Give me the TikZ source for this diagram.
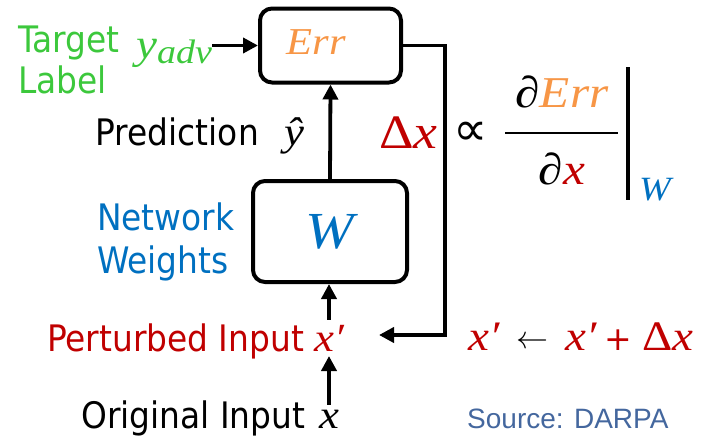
\RequirePackage{fix-cm}
\documentclass[tikz,border=0pt]{standalone}
\usepackage{fontspec}
\setmainfont{DejaVu Sans Condensed}
\newfontfamily\mv{Liberation Serif}[FakeStretch=1.12]
\newfontfamily\symf{DejaVu Sans}
\newfontfamily\srcfont{Liberation Sans}
\usetikzlibrary{arrows.meta}
\definecolor{targetgreen}{RGB}{60,200,60}
\definecolor{errorange}{RGB}{247,150,70}
\definecolor{weightblue}{RGB}{0,112,192}
\definecolor{inputred}{RGB}{192,0,0}
\definecolor{sourceblue}{RGB}{68,103,158}
\newcommand{\vi}[1]{{\mv\itshape #1}}
\tikzset{
  block/.style={draw, line width=4pt, rounded corners=12pt, inner sep=0pt},
  flow/.style={line width=3.8pt, -{Triangle[length=15pt,width=15pt]}},
  lbl/.style={inner sep=0pt, font=\fontsize{36.5}{42}\selectfont},
  fs/.style={inner sep=0pt, font=\fontsize{#1}{#1}\selectfont},
  var/.style={inner sep=0pt, outer sep=5pt, font=\fontsize{40}{40}\selectfont},
}
\begin{document}
\begin{tikzpicture}[x=1pt,y=-1pt]
\useasboundingbox (0,0) rectangle (702,439);

% error block and network block
\node[block, minimum width=141pt, minimum height=74pt] (Err) at (330.5,45.5) {};
\node[fs=38, anchor=base, text=errorange] (errtxt) at (316,54) {\vi{Err}};
\node[block, minimum width=154pt, minimum height=101pt, fs=52, text=weightblue] (W) at (330,231.5) {\vi{W}};

% target label
\node[lbl, anchor=base west, text=targetgreen] (tgt1) at (18,52) {Target};
\node[lbl, anchor=base west, text=targetgreen] (tgt2) at (18,93) {Label};
\node[fs=42, anchor=base west, text=targetgreen] (yadv) at (136,58) {\vi{y}\raisebox{-5pt}{\fontsize{34}{34}\selectfont\vi{adv}}};

% prediction
\node[lbl, anchor=base east] (pred) at (259,145) {Prediction};
\node[fs=40, anchor=base west] (yhat) at (284,145) {\vi{ŷ}};

% network weights
\node[lbl, anchor=base west, text=weightblue] (nw1) at (97,230) {Network};
\node[lbl, anchor=base west, text=weightblue] (nw2) at (97,273) {Weights};

% inputs
\node[var, anchor=base, text=inputred] (xp) at (329,351) {\vi{x′}};
\node[lbl, anchor=base west, text=inputred] (pin) at (47,351) {Perturbed Input};
\node[var, anchor=base] (xo) at (329,428) {\vi{x}};
\node[lbl, anchor=base west] (oin) at (81,428) {Original Input};

% update rule
\node[fs=42, anchor=base west, text=inputred] (upd) at (468,350)
  {\vi{x′}\hspace{17pt}\textcolor{black}{\raisebox{2pt}{\fontsize{32}{32}\selectfont$\leftarrow$}}\hspace{17pt}\vi{x′}\hspace{8pt}{\fontsize{33}{33}\selectfont\symf +}\hspace{10pt}{\mv Δ}\vi{x}};

% gradient expression
\node[fs=48, anchor=base west, text=inputred] (dx) at (379,148) {{\mv Δ}\vi{x}};
\node[fs=48] (prop) at (471,134) {\symf ∝};
\node[fs=44, anchor=base] (num) at (562,107) {\vi{∂}\textcolor{errorange}{\vi{Err}}};
\node[fs=44, anchor=base] (den) at (562,184) {\vi{∂}\textcolor{inputred}{\vi{x}}};
\coordinate (fracL) at (505,133);
\coordinate (fracR) at (618,133);
\draw[line width=2.5pt] (fracL) -- (fracR);
\coordinate (barT) at (628,67);
\coordinate (barB) at (628,200);
\draw[line width=4pt] (barT) -- (barB);
\node[fs=34, anchor=base, text=weightblue] (wsub) at (655,200) {\vi{W}};

% source
\node[fs=28, anchor=base west, text=sourceblue] (src) at (467,428) {\srcfont Source: DARPA};

% connectors
\draw[flow] (yadv.east |- Err.west) -- (Err.west);
\draw[flow] (W.north) -- (Err.south);
\draw[flow] (xp.north) -- (xp.north |- W.south);
\draw[flow] (xo.north) -- (xp.south);
\coordinate (fbA) at (445,45.5);
\coordinate (fbB) at (445,335);
\coordinate (fbEnd) at (379,335);
\draw[flow, line join=miter] (Err.east) -- (fbA) -- (fbB) -- (fbEnd);
\end{tikzpicture}
\end{document}
